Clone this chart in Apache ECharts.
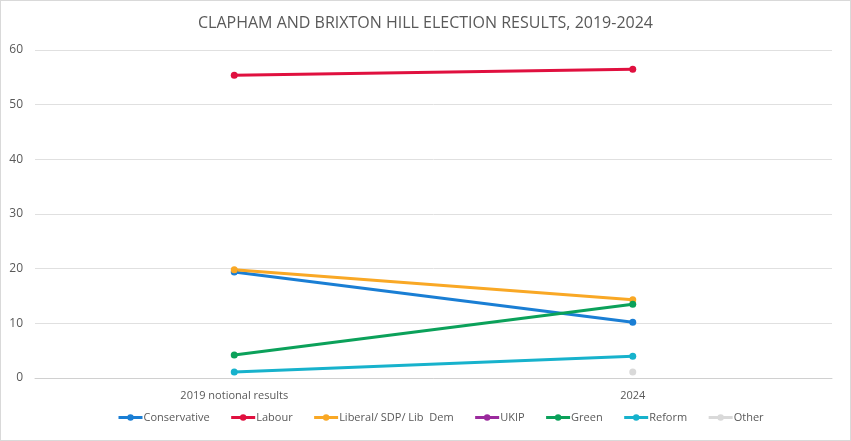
<!DOCTYPE html>
<html>
<head>
    <meta charset="UTF-8">
    <title>Clapham and Brixton Hill</title>
    <script type="text/javascript" src="https://cdn.jsdelivr.net/npm/echarts@6/dist/echarts.min.js"></script>
</head>
<body style="margin: 0">
<div id="container" style="width: 849px; height: 439px; border: 1px solid #d9d9d9"></div>
<script type="text/javascript">
    const years = ['2019 notional results', '2024'];
    const conservative = [19.4, 10.2];
    const labour = [55.4, 56.5];
    const libDem = [19.8, 14.3];
    const ukip = [null, null];
    const green = [4.2, 13.5];
    const reform = [1.1, 4.0];
    const other = [null, 1.1];

    const names = ['Conservative', 'Labour', 'Liberal/ SDP/ Lib  Dem', 'UKIP', 'Green', 'Reform', 'Other'];
    const colors = ['#1a7ed4', '#e0103f', '#f9a825', '#9b2a9d', '#0ba15a', '#17b2cc', '#d9d9d9'];
    const values = [conservative, labour, libDem, ukip, green, reform, other];

    const myChart = echarts.init(document.getElementById('container'));
    const option = {
        title: {
            text: 'CLAPHAM AND BRIXTON HILL ELECTION RESULTS, 2019-2024',
            left: 'center',
            top: 9,
            textStyle: {
                color: '#595959',
                fontSize: 16,
                fontWeight: 'normal',
                fontFamily: 'Open Sans'
            }
        },
        legend: {
            bottom: 12,
            left: 111,
            itemWidth: 24,
            itemHeight: 8,
            itemGap: 20,
            lineStyle: {width: 3},
            textStyle: {color: '#595959', fontSize: 11, fontFamily: 'Open Sans', padding: [0, 0, 0, -4]},
            data: names
        },
        grid: {left: 34, right: 18, top: 49, bottom: 62},
        xAxis: {
            type: 'category',
            data: years,
            axisLine: {lineStyle: {color: '#d0d0d0'}},
            axisTick: {show: false},
            axisLabel: {color: '#595959', fontSize: 11, fontFamily: 'Open Sans', margin: 12}
        },
        yAxis: {
            type: 'value',
            min: 0,
            max: 60,
            interval: 10,
            axisLine: {show: false},
            axisTick: {show: false},
            splitLine: {lineStyle: {color: '#e0e0e0'}},
            axisLabel: {color: '#595959', fontSize: 12, fontFamily: 'Open Sans', margin: 12}
        },
        series: names.map(function (n, i) {
            return {
                name: n,
                type: 'line',
                data: values[i],
                color: colors[i],
                symbol: 'circle',
                symbolSize: 7,
                showSymbol: true,
                lineStyle: {width: 3},
                animation: false
            };
        })
    };
    myChart.setOption(option);
</script>
</body>
</html>
